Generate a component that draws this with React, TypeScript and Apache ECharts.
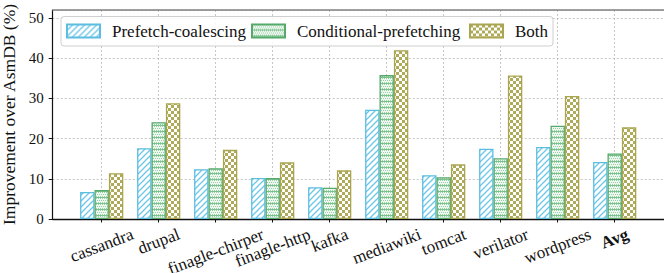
import React, { useEffect, useRef } from "react";
import * as echarts from "echarts";

const categories = [
  "cassandra",
  "drupal",
  "finagle-chirper",
  "finagle-http",
  "kafka",
  "mediawiki",
  "tomcat",
  "verilator",
  "wordpress",
  "Avg",
];
const seriesNames = ["Prefetch-coalescing", "Conditional-prefetching", "Both"];
const prefetchCoalescing = [6.7, 17.6, 12.4, 10.2, 7.9, 27.2, 10.9, 17.5, 17.9, 14.2];
const conditionalPrefetching = [7.2, 24.1, 12.6, 10.2, 7.8, 35.8, 10.4, 15.1, 23.2, 16.3];
const both = [11.4, 28.8, 17.2, 14.1, 12.1, 42.0, 13.6, 35.7, 30.6, 22.8];
const yMin = 0;
const yMax = 52;
const yInterval = 10;

const FONT = "'Liberation Serif', 'DejaVu Serif', serif";

function makePattern(kind: string) {
  const c = document.createElement("canvas");
  const s = 6;
  c.width = s;
  c.height = s;
  const g = c.getContext("2d")!;
  g.fillStyle = "#ffffff";
  g.fillRect(0, 0, s, s);
  if (kind === "hatch") {
    g.strokeStyle = "#6cc6e8";
    g.lineWidth = 1.3;
    g.beginPath();
    g.moveTo(-1, s + 1);
    g.lineTo(s + 1, -1);
    g.moveTo(-1, 1);
    g.lineTo(1, -1);
    g.moveTo(s - 1, s + 1);
    g.lineTo(s + 1, s - 1);
    g.stroke();
  } else if (kind === "dots") {
    g.fillStyle = "#eef7f0";
    g.fillRect(0, 0, s, s);
    g.fillStyle = "#9ad2a7";
    for (let y = 0; y < s; y += 2) {
      for (let x = (y / 2) % 2; x < s; x += 2) {
        g.fillRect(x, y, 1, 1);
      }
    }
    g.fillStyle = "#7cc08d";
    g.fillRect(0, s - 1, s, 1);
  } else {
    g.fillStyle = "#aeaa5a";
    g.fillRect(0, 0, 3, 3);
    g.fillRect(3, 3, 3, 3);
  }
  return { image: c, repeat: "repeat", imageWidth: s, imageHeight: s } as any;
}

export default function App() {
  const ref = useRef<HTMLDivElement>(null);
  useEffect(() => {
    document.body.style.margin = "0";
    if (!ref.current) return;
    const chart = echarts.init(ref.current, undefined, { renderer: "svg" });

    const styles = [
      { fill: makePattern("hatch"), edge: "#5bbde0" },
      { fill: makePattern("dots"), edge: "#55a96b" },
      { fill: makePattern("check"), edge: "#a9a550" },
    ];
    const values = [prefetchCoalescing, conditionalPrefetching, both];
    const legendLefts = [66, 251, 469];

    const plotTop = 10;
    const plotHeight = 209;
    const gridLine = { show: true, lineStyle: { color: "#b8b8b8", type: [2, 2], width: 0.8 } };

    const legendBox = {
      type: "rect",
      z: 3,
      shape: { x: 61, y: 16.5, width: 492, height: 29.5, r: 3 },
      style: { fill: "rgba(255,255,255,0.85)", stroke: "#cfcfcf", lineWidth: 1 },
    };

    chart.setOption({
      animation: false,
      grid: [
        { left: 52.7, top: plotTop, width: 640, height: plotHeight, outerBoundsMode: "none", containLabel: false },
        { left: 101.7, top: plotTop, width: 513, height: plotHeight, outerBoundsMode: "none", containLabel: false },
      ],
      xAxis: [
        {
          gridIndex: 0,
          type: "value",
          min: 0,
          max: 1,
          position: "bottom",
          axisLine: { show: true, onZero: false, lineStyle: { color: "#111", width: 1.4 } },
          axisTick: { show: false },
          axisLabel: { show: false },
          splitLine: { show: false },
        },
        {
          gridIndex: 0,
          type: "value",
          min: 0,
          max: 1,
          position: "top",
          axisLine: { show: true, onZero: false, lineStyle: { color: "#808080", width: 1.5 } },
          axisTick: { show: false },
          axisLabel: { show: false },
          splitLine: { show: false },
        },
        {
          gridIndex: 1,
          type: "category",
          data: categories,
          boundaryGap: false,
          axisLine: { show: false },
          axisTick: { show: true, length: 3.5, lineStyle: { color: "#111", width: 1 } },
          axisLabel: { show: false, interval: 0 },
          splitLine: gridLine,
        },
      ],
      yAxis: [
        {
          gridIndex: 0,
          type: "value",
          min: yMin,
          max: yMax,
          interval: yInterval,
          axisLine: { show: true, lineStyle: { color: "#111", width: 1.2 } },
          axisTick: { show: true, length: 4, lineStyle: { color: "#111" } },
          axisLabel: {
            fontSize: 15,
            fontFamily: FONT,
            color: "#111",
            margin: 9,
            showMaxLabel: false,
            showMinLabel: true,
            formatter: (v: number) => (v % yInterval === 0 ? String(v) : ""),
          },
          splitLine: gridLine,
          name: "Improvement over AsmDB (%)",
          nameLocation: "middle",
          nameGap: 24,
          nameTextStyle: { fontSize: 17.5, fontFamily: FONT, color: "#111" },
        },
        {
          gridIndex: 1,
          type: "value",
          min: yMin,
          max: yMax,
          interval: yInterval,
          show: false,
          splitLine: { show: false },
        },
      ],
      legend: seriesNames.map((n, i) => ({
        data: [n],
        left: legendLefts[i],
        top: 22.5,
        padding: 0,
        itemWidth: 33,
        itemHeight: 13,
        selectedMode: false,
        icon: "rect",
        textStyle: { fontSize: 17, fontFamily: FONT, color: "#111", padding: [0, 0, 0, 7] },
      })),
      graphic: [legendBox],
      series: seriesNames.map((n, i) => ({
        name: n,
        type: "bar",
        xAxisIndex: 2,
        yAxisIndex: 1,
        data: values[i],
        barWidth: 14.4,
        barGap: "0%",
        z: 5,
        itemStyle: {
          color: styles[i].fill,
          borderColor: styles[i].edge,
          borderWidth: 1.3,
        },
      })),
    });

    // Rotated category labels, centred under each tick (matplotlib-style rotation)
    const deg = 21;
    const theta = (deg * Math.PI) / 180;
    const mctx = document.createElement("canvas").getContext("2d")!;
    const axisY = plotTop + plotHeight;
    const boxTop = axisY + 7.5;
    const labels = categories.map((c) => {
      const bold = c === "Avg";
      mctx.font = `${bold ? "bold " : ""}17px 'Liberation Serif'`;
      const w = mctx.measureText(c).width;
      const h = 15;
      const half = (w * Math.sin(theta) + h * Math.cos(theta)) / 2;
      const px = chart.convertToPixel({ xAxisIndex: 2 } as any, c) as unknown as number;
      return {
        type: "text",
        z: 10,
        x: px,
        y: boxTop + half,
        rotation: theta,
        style: {
          text: c,
          fontSize: 17,
          fontFamily: FONT,
          fontWeight: bold ? "bold" : "normal",
          fill: "#111",
          align: "center",
          verticalAlign: "middle",
        },
      };
    });
    chart.setOption({ graphic: [legendBox, ...labels] });

    return () => chart.dispose();
  }, []);
  return <div ref={ref} style={{ width: 664, height: 273 }} />;
}
